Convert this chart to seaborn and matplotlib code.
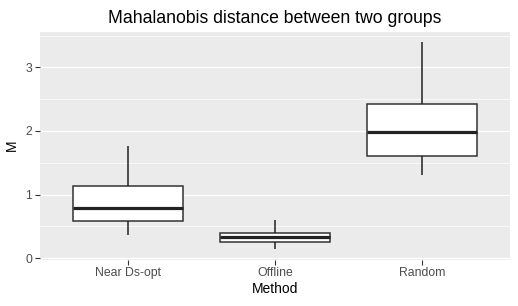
import matplotlib
matplotlib.use("Agg")
import matplotlib.pyplot as plt
import seaborn as sns
import pandas as pd
from matplotlib.ticker import MultipleLocator

# Data: five-number summaries (min, Q1, median, Q3, max)
methods = ["Near Ds-opt", "Offline", "Random"]
near_ds_opt = [0.37, 0.59, 0.79, 1.13, 1.76]
offline = [0.14, 0.26, 0.335, 0.40, 0.60]
random_m = [1.30, 1.60, 1.99, 2.42, 3.40]
y_ticks = [0, 1, 2, 3]

df = pd.DataFrame({
    "Method": [methods[0]] * len(near_ds_opt) + [methods[1]] * len(offline) + [methods[2]] * len(random_m),
    "M": near_ds_opt + offline + random_m,
})

sns.set_theme(style="white")
plt.rcParams["font.family"] = ["Liberation Sans", "DejaVu Sans"]

fig = plt.figure(figsize=(5.18, 3.06), dpi=100)
W, H = 518, 306
ax = fig.add_axes([40 / W, (H - 259.5) / H, (510 - 40) / W, (259.5 - 31.7) / H])
ax.set_facecolor("#EBEBEB")

ax.set_axisbelow(True)
ax.yaxis.set_major_locator(MultipleLocator(1))
ax.yaxis.set_minor_locator(MultipleLocator(0.5))
ax.grid(which="major", color="white", linewidth=1.0)
ax.grid(which="minor", axis="y", color="white", linewidth=0.5)

line = dict(color="#222222", linewidth=1.1)
sns.boxplot(
    data=df, x="Method", y="M", order=methods, ax=ax, width=0.75,
    whis=(0, 100), color="white", linecolor="#333333", linewidth=1.1,
    medianprops=dict(color="#222222", linewidth=2.3),
    boxprops=dict(facecolor="white", edgecolor="#333333", linewidth=1.1),
    whiskerprops=line, capprops=dict(linewidth=0), fliersize=0,
)

ax.set_xlim(-0.6, 2.6)
ax.set_ylim(-0.023, 3.563)
ax.set_yticks(y_ticks)
ax.set_yticklabels([str(t) for t in y_ticks])

for s in ax.spines.values():
    s.set_visible(False)

ax.tick_params(axis="both", which="major", length=3.5, width=0.8, color="#333333",
               labelcolor="#4D4D4D", labelsize=8.8, pad=2, left=True, bottom=True)
ax.tick_params(axis="y", which="minor", length=0)

ax.set_xlabel("Method", fontsize=10, color="black", labelpad=2)
ax.set_ylabel("M", fontsize=10, color="black", labelpad=5)
ax.set_title("Mahalanobis distance between two groups", fontsize=12.7, color="black", pad=6)

fig.savefig("out.png", dpi=100, facecolor="white")
